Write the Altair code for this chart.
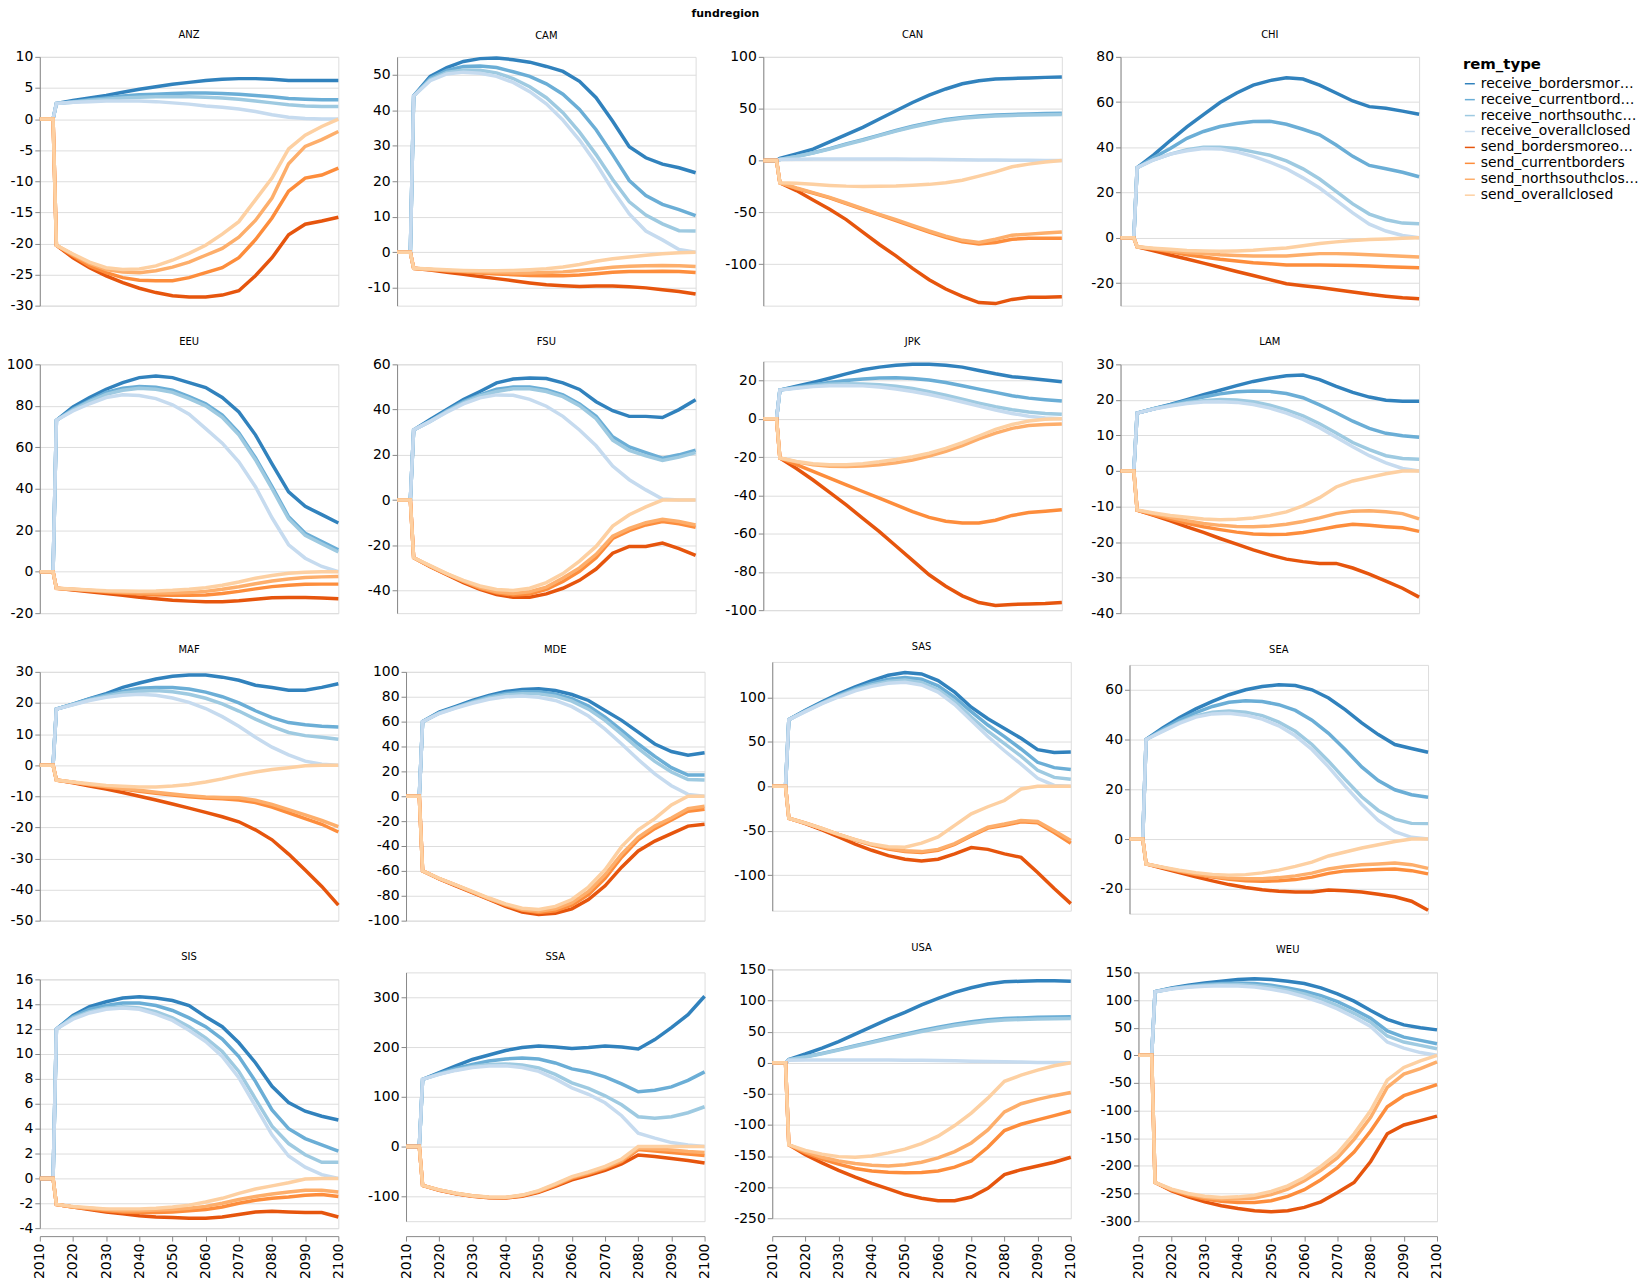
import altair as alt
import pandas as pd

# Years where every series is still zero, then the sampled years
ZERO_YEARS = [2010, 2014]
YEARS = [2015, 2020, 2025, 2030, 2035, 2040, 2045, 2050, 2055, 2060,
         2065, 2070, 2075, 2080, 2085, 2090, 2095, 2100]

REM_TYPES = ["receive_bordersmoreopen", "receive_currentborders",
             "receive_northsouthclosed", "receive_overallclosed",
             "send_bordersmoreopen", "send_currentborders",
             "send_northsouthclosed", "send_overallclosed"]

ANZ = [
    [2.5, 3.0, 3.4, 3.8, 4.3, 4.8, 5.2, 5.6, 5.9, 6.2, 6.4, 6.5, 6.5, 6.4, 6.2, 6.2, 6.2, 6.2],
    [2.5, 2.8, 3.1, 3.4, 3.7, 3.9, 4.0, 4.1, 4.2, 4.2, 4.1, 4.0, 3.8, 3.6, 3.3, 3.2, 3.1, 3.1],
    [2.5, 2.7, 3.0, 3.2, 3.4, 3.5, 3.6, 3.6, 3.6, 3.5, 3.4, 3.2, 2.9, 2.6, 2.3, 2.1, 2.0, 2.0],
    [2.5, 2.7, 2.8, 2.9, 2.9, 2.9, 2.8, 2.6, 2.4, 2.1, 1.9, 1.6, 1.2, 0.7, 0.3, 0.1, 0.0, 0.0],
    [-20.3, -22.3, -23.9, -25.2, -26.3, -27.2, -27.9, -28.4, -28.6, -28.6, -28.3, -27.6, -25.2, -22.3, -18.6, -16.9, -16.4, -15.8],
    [-20.3, -22.0, -23.6, -24.7, -25.5, -25.9, -26.0, -26.0, -25.5, -24.7, -23.9, -22.3, -19.4, -15.9, -11.6, -9.5, -9.0, -7.9],
    [-20.3, -21.8, -23.2, -24.2, -24.6, -24.7, -24.4, -23.8, -23.0, -21.9, -20.8, -19.0, -16.3, -12.7, -7.2, -4.4, -3.3, -2.0],
    [-20.3, -21.7, -23.0, -23.9, -24.2, -24.1, -23.6, -22.7, -21.6, -20.3, -18.5, -16.5, -13.0, -9.5, -4.8, -2.6, -1.2, 0.0],
]
CAM = [
    [44, 49.5, 52, 53.7, 54.5, 54.7, 54.2, 53.5, 52.3, 50.9, 48.1, 43.5, 36.9, 29.7, 26.6, 24.8, 23.8, 22.4],
    [44, 49, 51.2, 52.3, 52.4, 52.0, 50.8, 49.5, 47.4, 44.5, 40.2, 34.5, 27.5, 20.2, 16.0, 13.5, 12.0, 10.3],
    [44, 48.6, 50.6, 51.3, 51.2, 50.5, 48.9, 46.6, 43.5, 39.3, 33.8, 27.5, 20.5, 14.2, 10.5, 8.0, 6.1, 6.0],
    [44, 48.3, 50.2, 50.7, 50.4, 49.5, 47.8, 45.2, 41.8, 37.2, 31.6, 25.0, 17.5, 10.8, 6.0, 3.5, 0.8, 0],
    [-4.5, -5.0, -5.6, -6.2, -6.8, -7.4, -8.0, -8.6, -9.1, -9.4, -9.6, -9.5, -9.5, -9.7, -10.0, -10.5, -11.0, -11.7],
    [-4.5, -4.8, -5.2, -5.5, -5.8, -6.1, -6.3, -6.5, -6.6, -6.6, -6.4, -6.0, -5.6, -5.4, -5.4, -5.3, -5.4, -5.7],
    [-4.5, -4.8, -5.1, -5.3, -5.5, -5.7, -5.8, -5.8, -5.7, -5.5, -5.1, -4.7, -4.2, -3.9, -3.8, -3.7, -3.8, -4.0],
    [-4.5, -4.7, -4.9, -5.1, -5.2, -5.2, -5.1, -4.9, -4.6, -4.1, -3.4, -2.5, -1.8, -1.3, -0.8, -0.4, -0.1, 0],
]
CAN = [
    [2, 6.4, 11, 18, 25, 32, 40, 48, 56, 63, 69, 74, 77, 78.6, 79.2, 79.6, 80.2, 80.5],
    [1, 4, 7.5, 11.5, 16, 20, 24.5, 29, 33, 36.5, 39.5, 41.5, 43, 44, 44.5, 45, 45.3, 45.5],
    [1, 3.8, 7.2, 11, 15.5, 19.5, 24, 28.3, 32.3, 35.7, 38.7, 40.7, 42, 43, 43.5, 44, 44.2, 44.5],
    [1, 1.3, 1.5, 1.5, 1.5, 1.5, 1.5, 1.4, 1.3, 1.2, 1.0, 0.8, 0.6, 0.4, 0.3, 0.2, 0.1, 0],
    [-21.5, -29, -38, -47, -57, -69, -81, -92, -104, -115, -124, -131, -137, -138, -134, -132, -132, -131.5],
    [-21.5, -27, -31.5, -36, -41.5, -47, -52.5, -58, -63.5, -69, -74, -78.5, -80.5, -79, -76, -75, -75, -75],
    [-21.5, -26.5, -31, -35.5, -41, -46.5, -52, -57, -62.5, -68, -73, -77, -79, -76, -72, -71, -70, -69],
    [-21.5, -22, -23, -24, -24.7, -25, -24.8, -24.5, -23.8, -23, -21.5, -19, -15, -11, -6, -3.5, -1.5, 0],
]
CHI = [
    [31, 36.7, 43, 49, 54.5, 59.8, 64, 67.5, 69.5, 70.8, 70.2, 67.5, 64, 60.5, 58, 57.3, 56, 54.6],
    [31, 35.5, 39.5, 44, 47, 49.2, 50.5, 51.4, 51.5, 50.2, 48, 45.5, 41, 36, 32, 30.5, 29, 27],
    [31, 34.5, 37, 39, 40, 40, 39.5, 38, 36.5, 34, 30.5, 26, 20.5, 15, 10.5, 8, 6.5, 6.2],
    [31, 34.5, 37, 38.5, 39.5, 39.3, 38, 36, 33.5, 30.5, 26.5, 22, 16.5, 11, 6, 3, 1, 0],
    [-4, -5.8, -7.6, -9.4, -11.2, -13, -14.9, -16.7, -18.5, -20.3, -21.2, -22, -23, -24, -25, -25.8, -26.5, -27],
    [-4, -5, -6.2, -7.5, -8.5, -9.5, -10.3, -11, -11.5, -12, -12, -12, -12.1, -12.3, -12.5, -12.8, -13, -13.2],
    [-4, -4.8, -5.7, -6.5, -7, -7.5, -7.8, -8, -8, -8, -7.5, -7, -7, -7.2, -7.5, -7.8, -8.2, -8.5],
    [-4, -4.6, -5.1, -5.6, -5.8, -6, -5.8, -5.5, -5, -4.5, -3.5, -2.5, -1.8, -1.2, -0.8, -0.5, -0.2, 0],
]
EEU = [
    [73, 79.5, 84, 88, 91.2, 93.6, 94.4, 93.6, 91.2, 88.8, 84, 77, 66, 52, 38.5, 31.5, 27.5, 23.5],
    [73, 78.5, 82.5, 86.5, 88.5, 89.3, 89, 87.5, 84.5, 81, 75.5, 67, 55, 41, 26.5, 18.5, 14.5, 10.5],
    [73, 78, 82, 85.5, 87.5, 88.5, 88, 86.5, 83.5, 80, 74.5, 66, 54, 40, 25.5, 17.5, 13.5, 9.5],
    [73, 77.5, 81, 84, 85.3, 85, 83.5, 80.5, 76, 69, 62, 53, 41, 26, 13, 6.5, 2.5, 0],
    [-8, -8.8, -9.7, -10.5, -11.4, -12.3, -13.1, -13.8, -14.2, -14.5, -14.5, -14, -13.3, -12.6, -12.4, -12.4, -12.7, -13],
    [-8, -8.6, -9.2, -9.8, -10.3, -10.8, -11.2, -11.4, -11.4, -11.2, -10.5, -9.5, -8.3, -7.2, -6.5, -6.1, -6, -6],
    [-8, -8.5, -9, -9.5, -9.9, -10.2, -10.3, -10.3, -10, -9.5, -8.5, -7.3, -5.8, -4.5, -3.5, -2.8, -2.5, -2.3],
    [-8, -8.4, -8.8, -9.2, -9.3, -9.4, -9.3, -9, -8.5, -7.7, -6.5, -5, -3.2, -1.8, -0.8, -0.3, 0, 0],
]
FSU = [
    [31, 35.6, 40, 44.4, 48, 51.8, 53.5, 54, 53.7, 51.8, 48.9, 43.5, 39.5, 37, 37, 36.5, 40, 44.4],
    [31, 35, 39.5, 43.5, 46.5, 49, 50, 50, 48.8, 46.5, 42.5, 37, 28, 23.5, 21, 18.5, 20, 22],
    [31, 34.8, 39.2, 43, 46, 48, 49.2, 49.2, 48, 45.7, 41.7, 36, 26.5, 22, 19.5, 17.5, 19, 21],
    [31, 34.8, 38.8, 42.5, 45.2, 46.5, 46.3, 44.5, 41.5, 37, 31, 24, 15, 9, 4.5, 0.5, 0, 0],
    [-25.5, -29.5, -33, -36.5, -39.5, -41.8, -43, -43, -41.5, -39, -35.5, -30.5, -23.5, -20.5, -20.5, -19, -21.5, -24.5],
    [-25.5, -29.3, -32.8, -36, -39, -41, -42, -41.5, -39.5, -36, -31.5, -25.5, -17, -13.5, -11, -9.5, -10.5, -12],
    [-25.5, -29.2, -32.6, -35.8, -38.6, -40.5, -41.3, -40.5, -38.5, -34.5, -30, -24, -16, -12.5, -10, -8.5, -9.5, -11],
    [-25.5, -29, -32.5, -35.5, -38, -39.5, -40, -39, -36.5, -32.5, -27, -20.5, -11.5, -6.5, -3, 0, 0, 0],
]
JPK = [
    [15, 17, 19, 21.2, 23.5, 25.6, 27, 28, 28.5, 28.5, 28, 27, 25.2, 23.5, 22, 21.2, 20.3, 19.3],
    [15, 16.5, 17.8, 19, 20, 20.8, 21.3, 21.5, 21, 20.3, 19, 17.3, 15.5, 13.8, 12, 10.8, 10, 9.3],
    [15, 16.2, 17.2, 18, 18.3, 18.2, 17.8, 17, 15.8, 14.2, 12.3, 10.3, 8.2, 6.3, 4.7, 3.5, 2.8, 2.4],
    [15, 16, 16.8, 17.3, 17.4, 17.2, 16.6, 15.6, 14.3, 12.7, 10.8, 8.8, 6.6, 4.6, 2.8, 1.3, 0.4, 0],
    [-20.5, -26, -32, -38.5, -45, -52, -59, -66.5, -74, -81.5, -87.5, -92.5, -96, -97.5, -97, -96.8, -96.5, -96],
    [-20.5, -24, -27.5, -31, -34.5, -38, -41.5, -45, -48.5, -51.5, -53.5, -54.5, -54.5, -53, -50.5, -49, -48.3, -47.5],
    [-20.5, -22.5, -24, -24.8, -25, -24.7, -24, -23, -21.5, -19.5, -17, -14, -10.5, -7.5, -5, -3.5, -3, -2.7],
    [-20.5, -22.3, -23.5, -24, -24, -23.5, -22.5, -21.3, -19.8, -18, -15.5, -12.5, -9, -5.5, -3, -1.2, -0.3, 0],
]
LAM = [
    [16.3, 17.5, 18.7, 20.1, 21.5, 22.7, 24, 25.2, 26.1, 26.8, 27, 25.7, 23.8, 22.1, 20.8, 19.9, 19.6, 19.6],
    [16.3, 17.5, 18.6, 19.8, 20.8, 21.7, 22.3, 22.5, 22.4, 21.8, 20.6, 18.6, 16.4, 14, 12, 10.6, 9.9, 9.5],
    [16.3, 17.5, 18.4, 19.2, 19.8, 20.1, 20, 19.5, 18.5, 17.2, 15.5, 13.3, 10.7, 8, 6, 4.3, 3.5, 3.3],
    [16.3, 17.4, 18.3, 19, 19.4, 19.5, 19.3, 18.7, 17.7, 16.3, 14.5, 12.2, 9.5, 6.8, 4.3, 2.3, 0.7, 0],
    [-11, -12.5, -14, -15.7, -17.3, -19, -20.6, -22.2, -23.6, -24.8, -25.5, -26, -26, -27.3, -29, -31, -33, -35.5],
    [-11, -12.3, -13.5, -14.7, -15.7, -16.5, -17.2, -17.7, -17.9, -17.8, -17.3, -16.5, -15.6, -15, -15.3, -15.7, -16, -17],
    [-11, -12, -13, -14, -14.8, -15.3, -15.6, -15.7, -15.5, -15, -14.2, -13.2, -12, -11.3, -11.2, -11.5, -12, -13.5],
    [-11, -11.8, -12.5, -13, -13.5, -13.7, -13.6, -13.2, -12.5, -11.5, -9.8, -7.5, -4.5, -2.8, -1.8, -0.8, 0, 0],
]
MAF = [
    [18, 19.6, 21.4, 23, 25, 26.4, 27.7, 28.6, 29, 29, 28.3, 27.3, 25.7, 25, 24.1, 24.1, 25, 26.2],
    [18, 19.6, 21.3, 22.6, 23.8, 24.7, 25, 25, 24.5, 23.5, 22, 20, 17.5, 15.3, 13.7, 13, 12.5, 12.3],
    [18, 19.5, 21, 22.2, 23.2, 23.8, 24, 23.6, 22.8, 21.5, 19.7, 17.4, 14.8, 12.5, 10.5, 9.5, 9, 8.3],
    [18, 19.4, 20.8, 21.8, 22.5, 22.8, 22.5, 21.6, 20.2, 18.2, 15.6, 12.5, 9, 5.8, 3.3, 1.3, 0.3, 0],
    [-4.8, -5.7, -6.7, -7.7, -8.8, -10, -11.2, -12.5, -13.8, -15.2, -16.6, -18.2, -20.8, -24, -28.6, -33.7, -39, -45],
    [-4.8, -5.5, -6.3, -7, -7.7, -8.4, -9, -9.6, -10.2, -10.6, -10.8, -11.2, -12, -13.5, -15.3, -17.2, -19, -21.5],
    [-4.8, -5.5, -6.2, -6.9, -7.5, -8.1, -8.7, -9.3, -9.8, -10.2, -10.4, -10.5, -11.3, -12.6, -14.3, -16, -17.8, -19.8],
    [-4.8, -5.4, -6, -6.5, -6.8, -7, -7, -6.7, -6.2, -5.4, -4.4, -3.2, -2.2, -1.4, -0.8, -0.2, 0, 0],
]
MDE = [
    [60, 67.6, 72.2, 77, 81, 84.2, 85.8, 86.4, 85, 81.8, 77, 69, 61, 51.6, 42, 36, 33, 35],
    [60, 67, 71.5, 76, 80, 82.7, 84, 84, 82.3, 78.5, 72.5, 63.5, 53, 42, 32, 23, 17, 17],
    [60, 66.8, 71.2, 75.5, 79, 81.5, 82.5, 82.3, 80.5, 76.5, 70, 61, 50, 38.5, 28, 19.5, 13.5, 13],
    [60, 66.5, 70.8, 74.8, 78, 80, 80.5, 79.5, 77, 72, 64.5, 54, 42, 29.5, 18, 8.5, 1.5, 0],
    [-60, -66.5, -72, -77.5, -83, -88.5, -93, -95, -94, -90.5, -83, -72, -57, -44, -36, -30, -24, -22.5],
    [-60, -66.3, -71.5, -77, -82.5, -87.5, -91.5, -93.5, -92, -87.5, -79, -66, -49, -35, -26, -19, -12, -10.5],
    [-60, -66.2, -71.4, -76.8, -82.2, -87, -91, -92.5, -90.5, -85.5, -76.5, -63, -46.5, -33, -24, -17.5, -10, -8],
    [-60, -66, -71.3, -76.5, -81.8, -86.5, -90, -91, -88.5, -83, -73, -59, -40.5, -27, -18, -7, 0, 0],
]
SAS = [
    [75, 85.6, 95, 104, 112, 119, 125, 128, 126.5, 119, 106, 89, 76, 65, 54, 41.3, 38, 38.6],
    [75, 85, 94, 102.5, 110, 116, 120.5, 122.5, 120.5, 113, 100, 84, 69, 56, 42, 27, 21, 19],
    [75, 84.5, 93.5, 101.5, 108.5, 114, 118, 119.5, 117, 109, 95.5, 78, 62, 48, 34, 18, 10, 8],
    [75, 84, 93, 100.5, 107.5, 112.5, 116, 117, 114, 106, 92, 74, 56, 40, 25, 9, 1, 0],
    [-36, -42, -49, -57, -65, -72, -78, -82, -84, -82, -76, -69, -71, -76, -80, -97, -115, -132],
    [-36, -41.5, -48, -54.5, -60.5, -66, -70.5, -73.5, -74.5, -72, -65.5, -56, -47, -44, -40, -41, -52, -64],
    [-36, -41.3, -47.5, -54, -60, -65.3, -69.5, -72.5, -73.5, -71, -64.5, -55, -46, -42.5, -38.5, -39.5, -50, -61],
    [-36, -41.5, -47.5, -54, -60, -65, -68, -68.5, -64, -57, -44, -31, -23, -16, -3, 0, 0, 0],
]
SEA = [
    [40, 44.7, 48.7, 52.3, 55.3, 58, 60, 61.3, 62, 61.7, 60, 56.7, 52, 46.7, 42, 38, 36.4, 34.9],
    [40, 44, 47.7, 50.8, 53.3, 55, 55.6, 55.3, 54, 51.7, 47.8, 42.5, 36, 29, 23.5, 19.8, 17.8, 16.8],
    [40, 43.5, 46.8, 49.5, 51, 51.5, 51, 49.6, 47, 43.3, 38, 31.3, 24, 17, 11.5, 8, 6.3, 6.2],
    [40, 43.3, 46.5, 49, 50.3, 50.6, 49.8, 48.2, 45.5, 41.5, 36, 29, 21.3, 14, 7.5, 3, 0.7, 0],
    [-10, -11.8, -13.5, -15.2, -16.8, -18.3, -19.5, -20.4, -21, -21.3, -21.3, -20.5, -20.8, -21.3, -22.2, -23.2, -25, -28.6],
    [-10, -11.5, -13, -14.3, -15.3, -16.2, -16.8, -17, -16.8, -16.3, -15.3, -13.8, -12.8, -12.5, -12.2, -12, -12.7, -14],
    [-10, -11.4, -12.8, -14, -15, -15.7, -16, -16, -15.5, -14.8, -13.7, -12, -11, -10.3, -10, -9.6, -10.3, -11.8],
    [-10, -11.3, -12.5, -13.5, -14.2, -14.5, -14.3, -13.6, -12.5, -11, -9.3, -6.8, -5.2, -3.6, -2.3, -1, 0, 0],
]
SIS = [
    [12, 13.1, 13.8, 14.2, 14.5, 14.6, 14.5, 14.3, 13.9, 13, 12.2, 10.9, 9.3, 7.4, 6.1, 5.4, 5.0, 4.7],
    [12, 13, 13.6, 13.9, 14.1, 14.1, 13.9, 13.5, 12.9, 12.2, 11.2, 9.8, 7.8, 5.5, 4, 3.2, 2.7, 2.2],
    [12, 12.9, 13.4, 13.7, 13.8, 13.7, 13.4, 12.9, 12.2, 11.3, 10.2, 8.6, 6.4, 4.2, 2.8, 1.9, 1.3, 1.3],
    [12, 12.8, 13.3, 13.6, 13.7, 13.6, 13.2, 12.7, 11.9, 11, 9.8, 8.1, 5.8, 3.5, 1.8, 0.9, 0.3, 0],
    [-2.1, -2.3, -2.5, -2.7, -2.85, -3.0, -3.1, -3.15, -3.2, -3.2, -3.1, -2.9, -2.7, -2.65, -2.7, -2.75, -2.75, -3.1],
    [-2.1, -2.3, -2.45, -2.6, -2.7, -2.75, -2.75, -2.7, -2.6, -2.5, -2.3, -2.0, -1.75, -1.6, -1.5, -1.35, -1.3, -1.45],
    [-2.1, -2.3, -2.4, -2.5, -2.6, -2.6, -2.55, -2.5, -2.4, -2.25, -2.0, -1.7, -1.45, -1.25, -1.1, -0.95, -0.95, -1.1],
    [-2.1, -2.25, -2.35, -2.45, -2.45, -2.45, -2.4, -2.3, -2.15, -1.9, -1.6, -1.2, -0.85, -0.6, -0.35, -0.05, 0, 0],
]
SSA = [
    [135, 148.7, 162, 175, 184, 193, 199, 202, 200, 197, 199, 202, 200, 196, 215, 239, 265, 302],
    [135, 147, 157, 165, 172, 176, 178, 176, 168, 156, 150, 140, 126, 110, 113, 120, 133, 150],
    [135, 145.5, 154, 161, 165, 166, 164, 158, 145, 128, 117, 102, 84, 60, 57, 60, 68, 80],
    [135, 145, 153, 159, 162, 162.5, 159, 151, 136, 118, 105, 88, 62, 27, 17, 8, 3, 0],
    [-78, -88, -95, -100, -103, -103.5, -100, -92, -80, -67, -58, -48, -35, -17, -20, -24, -28, -33],
    [-78, -87.5, -94.5, -99.5, -102.5, -103, -99, -90.5, -78, -64, -55, -44, -30, -6, -9, -12, -15, -18],
    [-78, -87, -94, -99, -102, -102.5, -98, -89.5, -76.5, -62, -53, -42, -28, -3, -5, -7, -10, -12],
    [-78, -87, -94, -99, -101.5, -102, -97.5, -88.5, -75, -60.5, -51, -40, -25, 0, 0, 0, 0, 0],
]
USA = [
    [5.3, 14, 23.5, 34, 46, 58, 70, 81, 93, 103.5, 113, 120.5, 126.5, 130, 131, 131.7, 131.7, 131],
    [5, 9.5, 15, 21, 27.5, 33.5, 40, 46, 52, 57, 62, 66, 69, 71, 72, 73, 73.5, 74],
    [5, 9.2, 14.5, 20.3, 26.5, 32.3, 38.5, 44.3, 50, 55, 59.8, 63.5, 66.5, 68.5, 69.5, 70.3, 70.8, 71],
    [4, 4.5, 4.5, 4.5, 4.5, 4.5, 4.3, 4, 3.8, 3.5, 3, 2.5, 2, 1.5, 1, 0.5, 0.2, 0],
    [-132, -148, -161, -173, -184, -194, -203, -212, -218, -222, -222, -216, -202, -180, -172, -166, -160, -152],
    [-132, -145, -155, -163, -170, -174, -176, -177, -176.5, -174, -168, -158, -136, -109, -99, -92, -85, -78],
    [-132, -143, -152, -158, -162, -165, -166, -164, -160, -153, -143, -129, -108, -79, -66, -59, -53, -48],
    [-132, -141, -147, -151, -152, -150, -145, -139, -130, -118, -101, -81, -57, -30, -20, -12, -5, 0],
]
WEU = [
    [115, 122, 127, 131, 134, 137, 138.5, 137, 134, 130, 122, 111, 98, 81, 65, 55, 50, 46],
    [115, 121, 125, 128, 130, 131, 130, 127, 122, 116, 108, 97, 83, 67, 44, 33, 27, 21],
    [115, 120.5, 124, 126.5, 128, 128, 126.5, 123, 118, 111, 102, 90, 76, 60, 35, 24, 18, 12],
    [115, 120, 123, 125, 126, 125.5, 123.5, 119.5, 114, 106, 96, 84, 69, 52, 24, 13, 5, 0],
    [-230, -245, -256, -265, -272, -277, -281, -283, -281, -275, -265, -248, -230, -192, -142, -126, -118, -110],
    [-230, -244, -253, -260, -264, -266, -266, -263, -255, -243, -225, -203, -175, -137, -93, -73, -63, -53],
    [-230, -243, -251, -257, -260, -260, -258, -252, -242, -227, -208, -185, -152, -112, -58, -34, -24, -12],
    [-230, -242, -250, -255, -257, -256, -253, -246, -236, -221, -201, -177, -142, -100, -45, -22, -10, 0],
]

REGIONS = {
    "ANZ": ANZ, "CAM": CAM, "CAN": CAN, "CHI": CHI,
    "EEU": EEU, "FSU": FSU, "JPK": JPK, "LAM": LAM,
    "MAF": MAF, "MDE": MDE, "SAS": SAS, "SEA": SEA,
    "SIS": SIS, "SSA": SSA, "USA": USA, "WEU": WEU,
}

rows = []
for region, series_list in REGIONS.items():
    for rem, series in zip(REM_TYPES, series_list):
        for yr in ZERO_YEARS:
            rows.append({"fundregion": region, "rem_type": rem, "year": yr, "value": 0.0})
        for yr, v in zip(YEARS, series):
            rows.append({"fundregion": region, "rem_type": rem, "year": yr, "value": v})
df = pd.DataFrame(rows)

base = alt.Chart(df).mark_line(strokeWidth=3.5).encode(
    x=alt.X("year:Q", title=None,
            axis=alt.Axis(format="d", labelAngle=-90, grid=False)),
    y=alt.Y("value:Q", title=None,
            axis=alt.Axis(labelExpr="replace(datum.label, '\u2212', '-')")),
    color=alt.Color("rem_type:N", scale=alt.Scale(scheme="category20c"),
                    legend=alt.Legend(title="rem_type")),
).properties(width=300, height=250)

chart = base.facet(
    facet=alt.Facet("fundregion:N", title="fundregion"),
    columns=4,
    spacing={"row": 23, "column": 20},
).resolve_scale(y="independent").configure(
    font="DejaVu Sans"
).configure_axis(
    labelFontSize=14
).configure_legend(
    labelFontSize=14, titleFontSize=15
)

chart.save("out.html", embed_options={"renderer": "svg", "actions": False})
